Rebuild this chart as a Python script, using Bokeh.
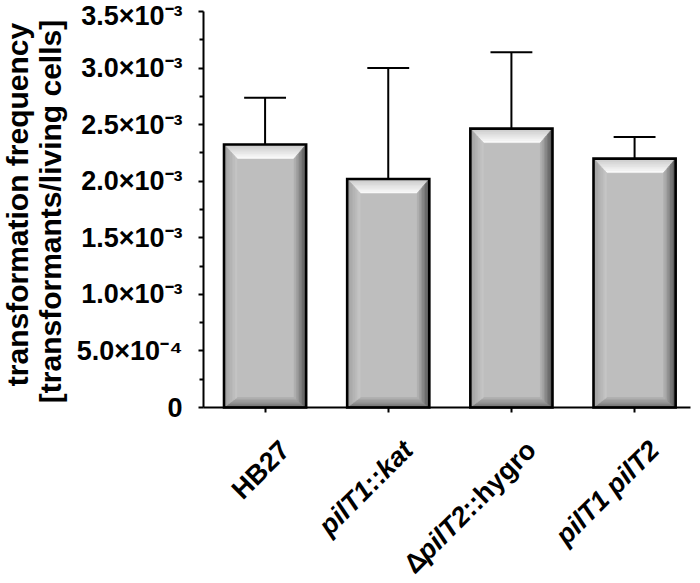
import math
from bokeh.plotting import figure
from bokeh.models import (Range1d, FixedTicker, CustomJSTickFormatter, LinearAxis,
                          ColumnDataSource)
from bokeh.core.properties import value
from bokeh.embed import file_html
from bokeh.resources import INLINE

# ---------------- data ----------------
categories = ["HB27", "pilT1::kat", "ΔpilT2::hygro", "pilT1 pilT2"]
label_parts = [
    [("HB27", "bold")],
    [("pilT1", "bold italic"), ("::", "bold"), ("kat", "bold italic")],
    [("Δ", "bold"), ("pilT2", "bold italic"), ("::hygro", "bold")],
    [("pilT1 pilT2", "bold italic")],
]
means = [2.325e-3, 2.02e-3, 2.465e-3, 2.20e-3]
errors = [0.412e-3, 0.98e-3, 0.675e-3, 0.19e-3]
y_ticks = [0.0, 0.5e-3, 1.0e-3, 1.5e-3, 2.0e-3, 2.5e-3, 3.0e-3, 3.5e-3]
y_tick_labels = ["0", "5.0×10⁻⁴", "1.0×10⁻³", "1.5×10⁻³", "2.0×10⁻³",
                 "2.5×10⁻³", "3.0×10⁻³", "3.5×10⁻³"]
y_title = ["transformation frequency", "[transformants/living cells]"]

# ---------------- layout (pixels on the canvas) ----------------
W, H = 692, 575
AX_LEFT_PX, AX_RIGHT_PX = 203, 690      # x-axis extent
AX_TOP_PX, AX_ZERO_PX = 11, 407         # y-axis extent
XA0, XA1 = -0.5, 3.454                  # data extent of the x-axis
YMAX = 3.5e-3
PX_X = (AX_RIGHT_PX - AX_LEFT_PX) / (XA1 - XA0)
PX_Y = (AX_ZERO_PX - AX_TOP_PX) / YMAX
FONT = "Liberation Sans"


def px2x(px):
    return XA0 + (px - AX_LEFT_PX) / PX_X


def py2y(py):
    return (AX_ZERO_PX - py) / PX_Y


BAR_W = 0.667
CAP_W = 0.34

p = figure(width=W, height=H, output_backend="svg", toolbar_location=None,
           x_range=Range1d(px2x(0), px2x(W)), y_range=Range1d(py2y(H), py2y(0)),
           x_axis_location=None, y_axis_location=None,
           min_border_left=0, min_border_right=0, min_border_top=0, min_border_bottom=0)
p.outline_line_color = None
p.grid.visible = False
p.background_fill_color = "white"
p.border_fill_color = "white"

xs_idx = list(range(len(categories)))

# error bars (upper only)
tops = [m + e for m, e in zip(means, errors)]
p.segment(x0=xs_idx, y0=means, x1=xs_idx, y1=tops, line_color="black", line_width=2)
p.segment(x0=[i - CAP_W / 2 for i in xs_idx], y0=tops,
          x1=[i + CAP_W / 2 for i in xs_idx], y1=tops, line_color="black", line_width=2)

# bars: face
lefts = [i - BAR_W / 2 for i in xs_idx]
rights = [i + BAR_W / 2 for i in xs_idx]
p.quad(left=lefts, right=rights, bottom=0, top=means, fill_color="#bebebe", line_color=None)


def hex2rgb(h):
    h = h.lstrip("#")
    return tuple(int(h[k:k + 2], 16) for k in (0, 2, 4))


def lerp(c0, c1, t):
    a, b = hex2rgb(c0), hex2rgb(c1)
    return "#%02x%02x%02x" % tuple(int(round(a[k] + (b[k] - a[k]) * t)) for k in range(3))


# bevel sizes (px) and gradients (outer -> inner)
BEV = dict(top=14, left=13, right=12, bottom=10)
GRAD = dict(top=("#c8c8c8", "#fcfcfc"), left=("#9c9c9c", "#c8c8c8"),
            right=("#4a4a4a", "#b6b6b6"), bottom=("#6c6c6c", "#b2b2b2"))
NSTRIP = 8
pxs, pys, pcs = [], [], []
for i, m in zip(xs_idx, means):
    x0, x1, y0, y1 = i - BAR_W / 2, i + BAR_W / 2, 0.0, m
    bl, br = BEV["left"] / PX_X, BEV["right"] / PX_X
    bt, bb = BEV["top"] / PX_Y, BEV["bottom"] / PX_Y
    L = lambda t: x0 + t * bl
    R = lambda t: x1 - t * br
    T = lambda t: y1 - t * bt
    Bm = lambda t: y0 + t * bb
    for k in range(NSTRIP):
        ta, tb = k / NSTRIP, (k + 1) / NSTRIP
        tm = (k + 0.5) / NSTRIP
        pxs.append([L(ta), R(ta), R(tb), L(tb)]); pys.append([T(ta), T(ta), T(tb), T(tb)])
        pcs.append(lerp(*GRAD["top"], tm))
        pxs.append([L(ta), R(ta), R(tb), L(tb)]); pys.append([Bm(ta), Bm(ta), Bm(tb), Bm(tb)])
        pcs.append(lerp(*GRAD["bottom"], tm))
        pxs.append([L(ta), L(ta), L(tb), L(tb)]); pys.append([Bm(ta), T(ta), T(tb), Bm(tb)])
        pcs.append(lerp(*GRAD["left"], tm))
        pxs.append([R(ta), R(ta), R(tb), R(tb)]); pys.append([Bm(ta), T(ta), T(tb), Bm(tb)])
        pcs.append(lerp(*GRAD["right"], tm))

src = ColumnDataSource(dict(xs=pxs, ys=pys, c=pcs))
p.patches(xs="xs", ys="ys", fill_color="c", line_color="c", line_width=0.6, source=src)

# bar outline
p.quad(left=lefts, right=rights, bottom=0, top=means, fill_color=None,
       line_color="black", line_width=2.6, line_join="miter")

# ---------------- axes (drawn at fixed locations inside the canvas) ----------------
xa = LinearAxis(fixed_location=0, bounds=(XA0, XA1))
xa.ticker = FixedTicker(ticks=xs_idx)
xa.major_label_overrides = {i: "" for i in xs_idx}
xa.axis_line_width = 2
xa.axis_line_color = "black"
xa.major_tick_line_width = 2
xa.major_tick_out = 5
xa.major_tick_in = 0
xa.minor_tick_line_color = None
p.add_layout(xa, "below")

minor = [(a + b) / 2 for a, b in zip(y_ticks[:-1], y_ticks[1:])]
ya = LinearAxis(fixed_location=XA0, bounds=(0, YMAX))
ya.ticker = FixedTicker(ticks=y_ticks, minor_ticks=minor)
ya.formatter = CustomJSTickFormatter(
    args=dict(vals=y_ticks, labels=y_tick_labels),
    code="""
    let k = 0;
    for (let j = 0; j < vals.length; j++) {
        if (Math.abs(vals[j] - tick) < 1e-9) { k = j; }
    }
    return labels[k];
    """)
ya.axis_line_width = 2
ya.axis_line_color = "black"
ya.major_tick_line_width = 2
ya.major_tick_out = 5
ya.major_tick_in = 0
ya.minor_tick_line_width = 2
ya.minor_tick_out = 4
ya.minor_tick_in = 0
ya.major_label_standoff = 16
ya.major_label_text_font = FONT
ya.major_label_text_font_size = "27px"
ya.major_label_text_font_style = "bold"
ya.major_label_text_color = "black"
p.add_layout(ya, "left")

# ---------------- y title (two rotated lines) ----------------
TITLE_BASE_PX = [17, 50]
TITLE_MID_PX = [204, 211]
p.text(x=[px2x(v) for v in TITLE_BASE_PX], y=[py2y(v) for v in TITLE_MID_PX], text=y_title,
       angle=math.pi / 2, text_align="center", text_baseline="alphabetic",
       text_font=value(FONT), text_font_size="30px", text_font_style="bold",
       text_color="black")

# ---------------- rotated category labels ----------------
ADV = {" ": .278, ":": .333, "1": .556, "2": .556, "7": .556, "B": .722, "H": .722,
       "T": .611, "a": .556, "g": .611, "h": .611, "i": .278, "k": .556, "l": .278,
       "o": .611, "p": .611, "r": .389, "t": .333, "y": .556, "Δ": .668}
XFS = 27
END_DX, END_DY = 20, 38        # baseline end relative to tick (px, y down)
c45 = math.cos(math.pi / 4)
lx, ly, lt, ls = [], [], [], []
for i, parts in zip(xs_idx, label_parts):
    widths = [sum(ADV.get(ch, .556) for ch in s) * XFS for s, _ in parts]
    total = sum(widths)
    tick_px = AX_LEFT_PX + (i - XA0) * PX_X
    cum = 0.0
    for (s, style), w in zip(parts, widths):
        rem = total - cum
        sx = tick_px + END_DX - rem * c45
        sy = AX_ZERO_PX + END_DY + rem * c45
        lx.append(px2x(sx)); ly.append(py2y(sy)); lt.append(s); ls.append(style)
        cum += w

lsrc = ColumnDataSource(dict(x=lx, y=ly, text=lt, style=ls))
p.text(x="x", y="y", text="text", source=lsrc, angle=math.pi / 4, text_align="left",
       text_baseline="alphabetic", text_font=value(FONT), text_font_size=f"{XFS}px",
       text_font_style="style", text_color="black")

open("out.html", "w").write(file_html(p, INLINE))
